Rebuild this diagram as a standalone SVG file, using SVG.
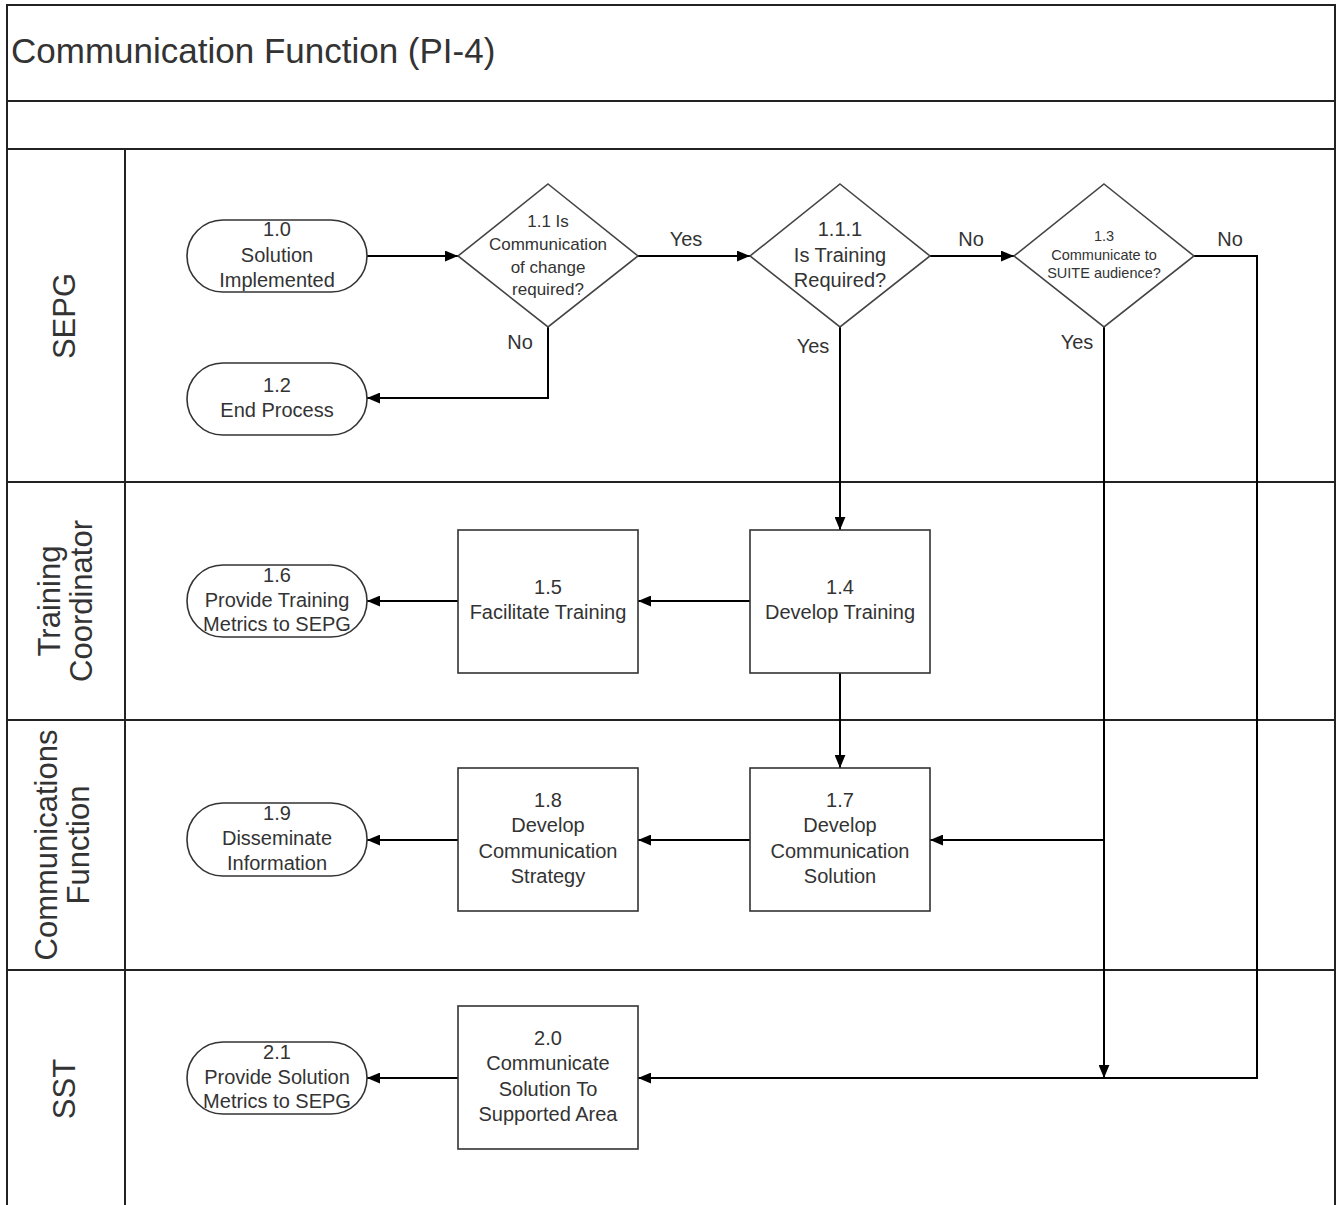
<svg xmlns="http://www.w3.org/2000/svg" width="1336" height="1205" viewBox="0 0 1336 1205">
<defs>
<marker id="ah" viewBox="0 0 12 10" refX="12" refY="5" markerWidth="13" markerHeight="11" orient="auto" markerUnits="userSpaceOnUse"><path d="M0,0 L12,5 L0,10 z" fill="#000"/></marker>
<style>
text{font-family:"Liberation Sans",Arial,sans-serif;fill:#333;text-anchor:middle}
.frame{stroke:#222;stroke-width:2;fill:none}
.shape{stroke:#333;stroke-width:1.6;fill:#fff}
.dia{stroke:#444;stroke-width:1.6;fill:#fff}
.conn{stroke:#000;stroke-width:2;fill:none}
.t20{font-size:20px}
.t17{font-size:17px}
.t15{font-size:14.5px}
.lane{font-size:31px}
.lbl{font-size:20px}
</style>
</defs>
<rect width="1336" height="1205" fill="#fff"/>
<g id="frame">
<path class="frame" d="M7,1205 V5 H1335 V1205"/>
<line class="frame" x1="7" y1="101" x2="1335" y2="101"/>
<line class="frame" x1="7" y1="149" x2="1335" y2="149"/>
<line class="frame" x1="125" y1="149" x2="125" y2="1205"/>
<line class="frame" x1="7" y1="482" x2="1335" y2="482"/>
<line class="frame" x1="7" y1="720" x2="1335" y2="720"/>
<line class="frame" x1="7" y1="970" x2="1335" y2="970"/>
<text x="11" y="63" style="font-size:35px;text-anchor:start">Communication Function (PI-4)</text>
</g>
<g id="lanes">
<text class="lane" transform="translate(64,316) rotate(-90)" y="11">SEPG</text>
<text class="lane" transform="translate(0,601) rotate(-90)" y="60">Training</text>
<text class="lane" transform="translate(0,601) rotate(-90)" y="92">Coordinator</text>
<text class="lane" transform="translate(0,845) rotate(-90)" y="57">Communications</text>
<text class="lane" transform="translate(0,845) rotate(-90)" y="89">Function</text>
<text class="lane" transform="translate(64,1089) rotate(-90)" y="11">SST</text>
</g>
<g id="connectors">
<line class="conn" x1="367" y1="256" x2="458" y2="256" marker-end="url(#ah)"/>
<line class="conn" x1="638" y1="256" x2="750" y2="256" marker-end="url(#ah)"/>
<line class="conn" x1="930" y1="256" x2="1014" y2="256" marker-end="url(#ah)"/>
<polyline class="conn" points="548,327 548,398 367,398" marker-end="url(#ah)"/>
<line class="conn" x1="840" y1="327" x2="840" y2="530" marker-end="url(#ah)"/>
<line class="conn" x1="750" y1="601" x2="638" y2="601" marker-end="url(#ah)"/>
<line class="conn" x1="458" y1="601" x2="367" y2="601" marker-end="url(#ah)"/>
<line class="conn" x1="840" y1="673" x2="840" y2="768" marker-end="url(#ah)"/>
<line class="conn" x1="750" y1="840" x2="638" y2="840" marker-end="url(#ah)"/>
<line class="conn" x1="458" y1="840" x2="367" y2="840" marker-end="url(#ah)"/>
<line class="conn" x1="1104" y1="327" x2="1104" y2="1078" marker-end="url(#ah)"/>
<line class="conn" x1="1104" y1="840" x2="930" y2="840" marker-end="url(#ah)"/>
<polyline class="conn" points="1194,256 1257,256 1257,1078 638,1078" marker-end="url(#ah)"/>
<line class="conn" x1="458" y1="1078" x2="367" y2="1078" marker-end="url(#ah)"/>
<text class="lbl" x="686" y="246">Yes</text>
<text class="lbl" x="971" y="246">No</text>
<text class="lbl" x="1230" y="246">No</text>
<text class="lbl" x="520" y="349">No</text>
<text class="lbl" x="813" y="353">Yes</text>
<text class="lbl" x="1077" y="349">Yes</text>
</g>
<g id="n1_0">
<rect class="shape" x="187" y="220" width="180" height="72" rx="36"/>
<text class="t20" x="277" y="236">1.0</text>
<text class="t20" x="277" y="262">Solution</text>
<text class="t20" x="277" y="287">Implemented</text>
</g>
<g id="n1_2">
<rect class="shape" x="187" y="363" width="180" height="72" rx="36"/>
<text class="t20" x="277" y="392">1.2</text>
<text class="t20" x="277" y="417">End Process</text>
</g>
<g id="n1_1">
<polygon class="dia" points="548,184 638,256 548,327 458,256"/>
<text class="t17" x="548" y="227">1.1 Is</text>
<text class="t17" x="548" y="250">Communication</text>
<text class="t17" x="548" y="273">of change</text>
<text class="t17" x="548" y="295">required?</text>
</g>
<g id="n1_1_1">
<polygon class="dia" points="840,184 930,256 840,327 750,256"/>
<text class="t20" x="840" y="236">1.1.1</text>
<text class="t20" x="840" y="262">Is Training</text>
<text class="t20" x="840" y="287">Required?</text>
</g>
<g id="n1_3">
<polygon class="dia" points="1104,184 1194,256 1104,327 1014,256"/>
<text class="t15" x="1104" y="241">1.3</text>
<text class="t15" x="1104" y="260">Communicate to</text>
<text class="t15" x="1104" y="278">SUITE audience?</text>
</g>
<g id="n1_4">
<rect class="shape" x="750" y="530" width="180" height="143"/>
<text class="t20" x="840" y="594">1.4</text>
<text class="t20" x="840" y="619">Develop Training</text>
</g>
<g id="n1_5">
<rect class="shape" x="458" y="530" width="180" height="143"/>
<text class="t20" x="548" y="594">1.5</text>
<text class="t20" x="548" y="619">Facilitate Training</text>
</g>
<g id="n1_6">
<rect class="shape" x="187" y="565" width="180" height="72" rx="36"/>
<text class="t20" x="277" y="582">1.6</text>
<text class="t20" x="277" y="607">Provide Training</text>
<text class="t20" x="277" y="631">Metrics to SEPG</text>
</g>
<g id="n1_7">
<rect class="shape" x="750" y="768" width="180" height="143"/>
<text class="t20" x="840" y="807">1.7</text>
<text class="t20" x="840" y="832">Develop</text>
<text class="t20" x="840" y="858">Communication</text>
<text class="t20" x="840" y="883">Solution</text>
</g>
<g id="n1_8">
<rect class="shape" x="458" y="768" width="180" height="143"/>
<text class="t20" x="548" y="807">1.8</text>
<text class="t20" x="548" y="832">Develop</text>
<text class="t20" x="548" y="858">Communication</text>
<text class="t20" x="548" y="883">Strategy</text>
</g>
<g id="n1_9">
<rect class="shape" x="187" y="803" width="180" height="73" rx="36"/>
<text class="t20" x="277" y="820">1.9</text>
<text class="t20" x="277" y="845">Disseminate</text>
<text class="t20" x="277" y="870">Information</text>
</g>
<g id="n2_0">
<rect class="shape" x="458" y="1006" width="180" height="143"/>
<text class="t20" x="548" y="1045">2.0</text>
<text class="t20" x="548" y="1070">Communicate</text>
<text class="t20" x="548" y="1096">Solution To</text>
<text class="t20" x="548" y="1121">Supported Area</text>
</g>
<g id="n2_1">
<rect class="shape" x="187" y="1042" width="180" height="72" rx="36"/>
<text class="t20" x="277" y="1059">2.1</text>
<text class="t20" x="277" y="1084">Provide Solution</text>
<text class="t20" x="277" y="1108">Metrics to SEPG</text>
</g>
</svg>
